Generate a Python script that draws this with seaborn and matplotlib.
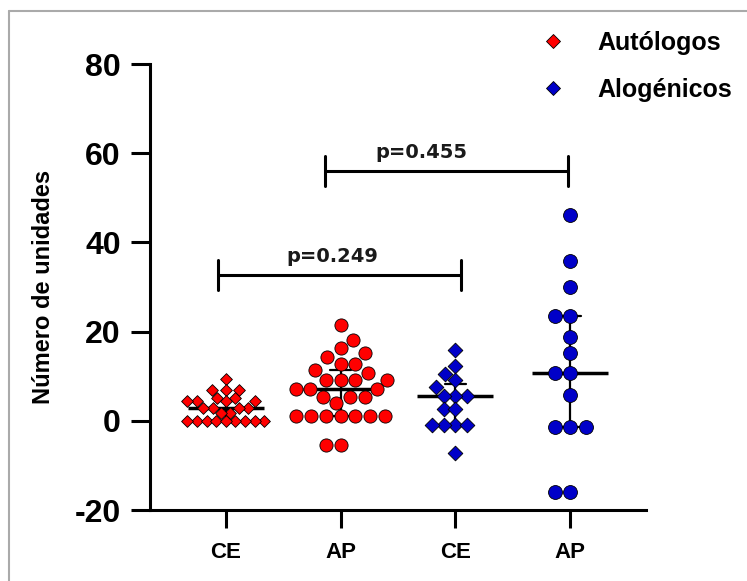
import numpy as np
import pandas as pd
import seaborn as sns
import matplotlib.pyplot as plt
from matplotlib.lines import Line2D

# valores
ce_autologos = [9.3, 7.0, 7.0, 7.0, 5.2, 5.2, 4.4, 4.4, 4.4, 4.4, 2.9, 2.9, 2.9, 2.9,
                1.8, 1.8, 0, 0, 0, 0, 0, 0, 0, 0, 0]
ap_autologos = [21.5, 18.2, 16.4, 15.2, 14.2, 12.8, 12.8, 11.4, 10.8, 9.2, 9.2, 9.2, 9.2,
                7.1, 7.1, 7.1, 5.3, 5.3, 5.3, 4.1, 1.1, 1.1, 1.1, 1.1, 1.1, 1.1, 1.1,
                -5.4, -5.4]
ce_alogenicos = [15.9, 12.2, 10.5, 9.2, 7.5, 5.5, 5.5, 5.5, 2.7, 2.7, -0.9, -0.9, -0.9, -0.9, -7.2]
ap_alogenicos = [46.2, 35.9, 30.0, 23.6, 23.6, 18.7, 15.2, 10.7, 10.7, 5.8, -1.5, -1.5, -1.5,
                 -15.9, -15.9]

grupos = ['CE_auto', 'AP_auto', 'CE_alo', 'AP_alo']
etiquetas = ['CE', 'AP', 'CE', 'AP']
tipos = ['Autólogos', 'Autólogos', 'Alogénicos', 'Alogénicos']
marcadores = ['D', 'o', 'D', 'o']
tamanos = [6, 9.5, 7.5, 10]
colores = {'Autólogos': '#ff0000', 'Alogénicos': '#0000c8'}
p_valores = ['p=0.249', 'p=0.455']

filas = []
for g, t, vals in zip(grupos, tipos, [ce_autologos, ap_autologos, ce_alogenicos, ap_alogenicos]):
    for v in vals:
        filas.append({'grupo': g, 'tipo': t, 'valor': v})
df = pd.DataFrame(filas)

sns.set_style('ticks')
plt.rcParams['font.family'] = ['Liberation Sans', 'DejaVu Sans']
plt.rcParams['axes.unicode_minus'] = False
plt.rcParams['text.color'] = 'black'
plt.rcParams['xtick.color'] = 'black'
plt.rcParams['ytick.color'] = 'black'
plt.rcParams['axes.labelcolor'] = 'black'
plt.rcParams['axes.edgecolor'] = 'black'

fig = plt.figure(figsize=(7.47, 5.81), dpi=100)
ax = fig.add_axes([0.2008, 0.1222, 0.664, 0.7676])

# mediana y rango intercuartil
sns.pointplot(data=df, x='grupo', y='valor', order=grupos, estimator='median',
              errorbar=('pi', 50), capsize=0.18, color='black', marker='_',
              markersize=55, markeredgewidth=2.5, linestyle='none',
              err_kws={'linewidth': 1.6}, ax=ax, zorder=2)

for g, t, m, s in zip(grupos, tipos, marcadores, tamanos):
    sns.swarmplot(data=df[df['grupo'] == g], x='grupo', y='valor', order=grupos,
                  color=colores[t], marker=m, size=s, edgecolor='black',
                  linewidth=0.6, ax=ax, zorder=3)

ax.set_ylim(-20, 80)
ax.set_xlim(-0.66, 3.66)
ax.set_yticks([-20, 0, 20, 40, 60, 80])
ax.set_xticks(range(4))
ax.set_xticklabels(etiquetas)
ax.set_xlabel('')
ax.set_ylabel('Número de unidades', fontsize=17, fontweight='bold', labelpad=14)
ax.tick_params(axis='y', labelsize=23, width=2.2, length=14, pad=7)
ax.tick_params(axis='x', labelsize=16, width=2.2, length=13, pad=10)
for lab in ax.get_xticklabels() + ax.get_yticklabels():
    lab.set_fontweight('bold')
sns.despine(ax=ax)
for s in ['left', 'bottom']:
    ax.spines[s].set_linewidth(2.2)

# barras de comparación
comparaciones = [(-0.07, 2.05, 32.7), (0.86, 2.98, 56.0)]
pos_texto = [0.93, 1.70]
for (x0, x1, y), xt, txt in zip(comparaciones, pos_texto, p_valores):
    ax.plot([x0, x1], [y, y], color='black', lw=2.2, clip_on=False)
    ax.plot([x0, x0], [y - 3.3, y + 3.3], color='black', lw=2.2, clip_on=False)
    ax.plot([x1, x1], [y - 3.3, y + 3.3], color='black', lw=2.2, clip_on=False)
    ax.text(xt, y + 2.0, txt, ha='center', va='bottom',
            fontsize=14, fontweight='bold', family='DejaVu Sans', color='#1a1a1a')

handles = [Line2D([], [], marker='D', linestyle='none', markersize=7,
                  markerfacecolor=colores[t], markeredgecolor='black', markeredgewidth=0.6)
           for t in ['Autólogos', 'Alogénicos']]
fig.legend(handles, ['Autólogos', 'Alogénicos'], loc='upper left',
           bbox_to_anchor=(0.683, 0.985), frameon=False, handletextpad=1.0,
           handlelength=1.6, labelspacing=0.9, prop={'size': 18, 'weight': 'bold'})

# marco gris del recorte
fig.add_artist(Line2D([0.012, 0.012], [0, 0.981], color='#aaaaaa', lw=1.5))
fig.add_artist(Line2D([0.012, 1], [0.981, 0.981], color='#aaaaaa', lw=1.5))

fig.savefig('out.png', dpi=100)
